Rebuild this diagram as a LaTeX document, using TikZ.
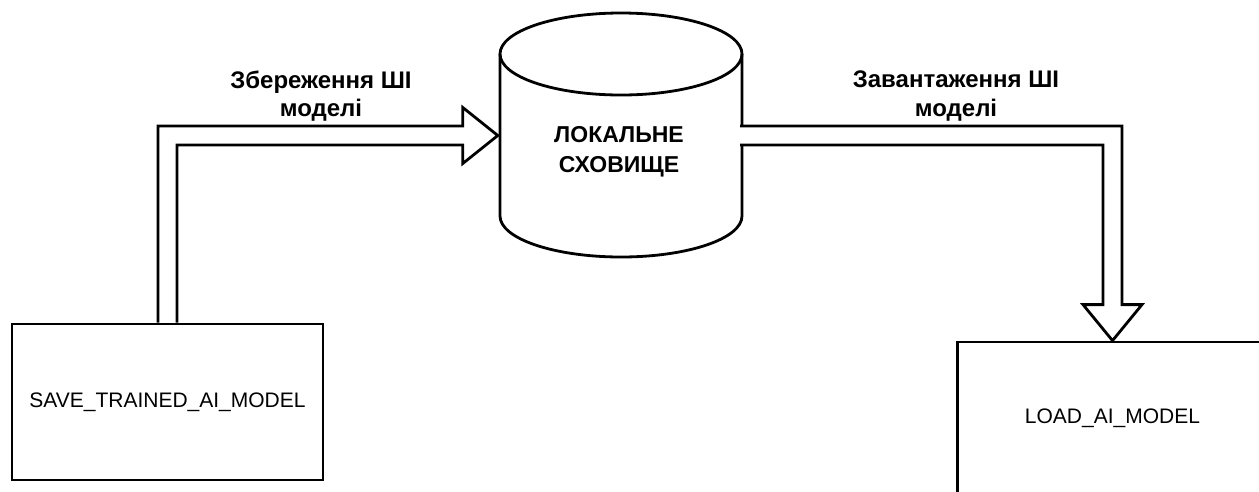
\documentclass[tikz,border=0pt]{standalone}
\usepackage{fontspec}
\setmainfont{Liberation Sans}
\usetikzlibrary{calc}
\begin{document}
\begin{tikzpicture}[x=1pt,y=-1pt,
  outline/.style={line width=2.8pt,draw=black,line join=miter},
  procbox/.style={outline,rectangle,inner sep=0pt,font=\fontsize{21}{25}\selectfont},
  flowlabel/.style={align=center,font=\fontsize{24}{28.8}\selectfont\bfseries},
  hollowarrow/.style={outline,fill=white}]
\useasboundingbox (0,0) rectangle (1259,491);

% processes
\node[procbox,minimum width=311pt,minimum height=156pt] (save) at (167.5,402) {SAVE\_TRAINED\_AI\_MODEL};
\node[procbox,minimum width=310pt,minimum height=152pt] (load) at (1112.5,418) {LOAD\_AI\_MODEL};

% local storage cylinder
\draw[outline] (500,54) -- (500,216) arc[start angle=180,end angle=360,x radius=121,y radius=-41]
  -- (742,54);
\draw[outline] (621,54) ellipse[x radius=121,y radius=41];
\node[flowlabel,font=\fontsize{23}{30}\selectfont\bfseries,minimum width=242pt,minimum height=245pt,inner sep=0pt] (db) at (619,152) {ЛОКАЛЬНЕ\\СХОВИЩЕ};

\coordinate (in1) at (db.west |- 0,135.5);
\coordinate (out1) at (db.east |- 0,135.5);

% save flow: box -> storage
\draw[hollowarrow] ($(save.north)+(-9.5,0)$) |- ($(in1)+(-35,-9.5)$) -- ++(0,-18.5) -- (in1)
  -- ($(in1)+(-35,28)$) -- ++(0,-18.5) -| ($(save.north)+(9.5,0)$);

% load flow: storage -> box
\draw[hollowarrow] ($(out1)+(0,-9.5)$) -| ($(load.north)+(9.5,-36)$) -- ++(20,0) -- (load.north)
  -- ($(load.north)+(-29.5,-36)$) -- ++(20,0) |- ($(out1)+(0,9.5)$);

% flow labels
\node[flowlabel] (lsave) at (321,96) {Збереження ШІ\\моделі};
\node[flowlabel] (lload) at (956,96) {Завантаження ШІ\\моделі};
\end{tikzpicture}
\end{document}
